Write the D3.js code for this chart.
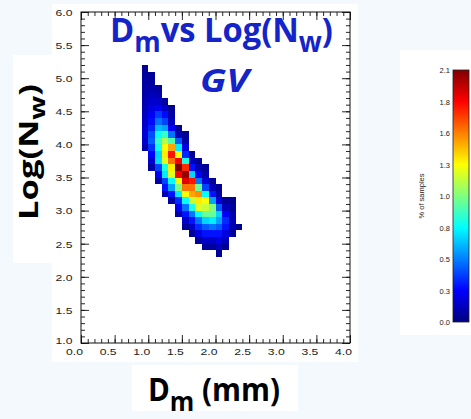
<!DOCTYPE html>
<html>
<head>
<meta charset="utf-8">
<script src="https://cdn.jsdelivr.net/npm/d3@7/dist/d3.min.js"></script>
<style>
  html, body { margin: 0; padding: 0; background: #f4f9fe; }
  svg { display: block; }
</style>
</head>
<body>
<svg id="chart" width="471" height="419"></svg>
<script>
// Dm bins (lower edge, mm), 0.1 mm wide
const dmBins = [0.9, 1.0, 1.1, 1.2, 1.3, 1.4, 1.5, 1.6, 1.7, 1.8, 1.9, 2.0, 2.1, 2.2, 2.3];
// Lower edge of the highest occupied Log(Nw) bin in each Dm column (bins 0.1 wide)
const logNwTop = [5.1, 5.0, 4.8, 4.6, 4.5, 4.2, 4.1, 3.8, 3.7, 3.6, 3.4, 3.3, 3.1, 3.1, 2.7];
// % of samples per cell, each column listed from its top bin downwards
const pctSamples = [
  [0.05, 0.06, 0.07, 0.08, 0.09, 0.10, 0.11, 0.13, 0.15, 0.17, 0.18, 0.16, 0.10],
  [0.05, 0.07, 0.09, 0.12, 0.16, 0.20, 0.24, 0.28, 0.33, 0.42, 0.45, 0.36, 0.26, 0.17, 0.08],
  [0.06, 0.10, 0.15, 0.24, 0.38, 0.50, 0.65, 0.80, 0.90, 0.82, 0.70, 0.72, 0.40, 0.25, 0.09],
  [0.07, 0.15, 0.28, 0.40, 0.60, 0.90, 1.15, 1.30, 1.35, 1.25, 0.85, 0.75, 0.40, 0.30, 0.10],
  [0.05, 0.08, 0.14, 0.25, 0.50, 0.95, 1.50, 1.80, 1.60, 1.35, 1.25, 0.80, 0.60, 0.30, 0.08],
  [0.05, 0.10, 0.45, 0.75, 1.30, 1.85, 2.10, 1.85, 1.30, 1.05, 0.75, 0.35, 0.25, 0.08],
  [0.04, 0.08, 0.20, 0.35, 0.85, 1.75, 2.05, 1.90, 1.60, 1.30, 0.80, 0.50, 0.30, 0.15, 0.06],
  [0.05, 0.12, 0.30, 0.70, 1.80, 1.60, 1.50, 1.20, 0.85, 0.50, 0.30, 0.15, 0.06],
  [0.05, 0.10, 0.25, 0.50, 1.00, 1.55, 1.35, 1.25, 0.80, 0.50, 0.35, 0.20, 0.07],
  [0.05, 0.08, 0.18, 0.40, 0.80, 1.30, 1.20, 1.00, 0.70, 0.45, 0.30, 0.15, 0.06],
  [0.05, 0.12, 0.30, 0.60, 1.05, 1.00, 0.75, 0.50, 0.30, 0.15, 0.07],
  [0.04, 0.08, 0.20, 0.45, 0.70, 0.60, 0.45, 0.30, 0.20, 0.12, 0.05],
  [0.05, 0.12, 0.25, 0.35, 0.30, 0.20, 0.12, 0.05],
  [0.04, 0.06, 0.10, 0.12, 0.10, 0.06],
  [0.04]
];

const xTickValues = [0, 0.5, 1, 1.5, 2, 2.5, 3, 3.5, 4];
const xTickLabels = ["0.0", "0.5", "1.0", "1.5", "2.0", "2.5", "3.0", "3.5", "4.0"];
const yTickValues = [1, 1.5, 2, 2.5, 3, 3.5, 4, 4.5, 5, 5.5, 6];
const yTickLabels = ["1.0", "1.5", "2.0", "2.5", "3.0", "3.5", "4.0", "4.5", "5.0", "5.5", "6.0"];
const cbTickValues = [0, 0.2625, 0.525, 0.7875, 1.05, 1.3125, 1.575, 1.8375, 2.1];
const cbTickLabels = ["0.0", "0.3", "0.5", "0.8", "1.0", "1.3", "1.6", "1.8", "2.1"];
const jetStops = [0, 0.2625, 0.7875, 1.3125, 1.8375, 2.1];
const jetColors = ["#00007f", "#0000ff", "#00ffff", "#ffff00", "#ff0000", "#7f0000"];

const svg = d3.select("#chart");
const FONT = "'Liberation Sans', Arial, Helvetica, sans-serif";
const TITLE_FONT = "'Open Sans', 'Noto Sans', sans-serif";
const BLUE = "#1424c8";

// page backdrop and white panels
svg.append("rect").attr("width", 471).attr("height", 419).attr("fill", "#f4f9fe");
const panels = [[52, 4, 306, 358], [13, 55, 42, 208], [132, 365, 166, 46], [400, 50, 71, 285]];
svg.append("g").selectAll("rect").data(panels).join("rect")
  .attr("x", d => d[0]).attr("y", d => d[1]).attr("width", d => d[2]).attr("height", d => d[3])
  .attr("fill", "#ffffff");

const x = d3.scaleLinear().domain([0, 4]).range([81, 350]);
const y = d3.scaleLinear().domain([1, 6]).range([343, 12]);
const color = d3.scaleLinear().domain(jetStops).range(jetColors).clamp(true);

// histogram cells
const cells = dmBins.flatMap((dm, i) => pctSamples[i].map((v, j) => ({
  dm, nw: +(logNwTop[i] - 0.1 * j).toFixed(1), v
})));
svg.append("g").selectAll("rect").data(cells).join("rect")
  .attr("x", d => Math.round(x(d.dm)))
  .attr("y", d => Math.round(y(d.nw + 0.1)))
  .attr("width", d => Math.round(x(d.dm + 0.1)) - Math.round(x(d.dm)))
  .attr("height", d => Math.round(y(d.nw)) - Math.round(y(d.nw + 0.1)))
  .attr("fill", d => color(d.v))
  .attr("shape-rendering", "crispEdges");

// tick marks on all four sides, pointing inward
const xMinor = x.ticks(40), yMinor = y.ticks(50);
function ticks(axisFn, scale, vals, len, tx, ty) {
  const g = svg.append("g").attr("transform", `translate(${tx},${ty})`)
    .call(axisFn(scale).tickValues(vals).tickSize(-len).tickFormat(""));
  g.select(".domain").remove();
  g.selectAll("line").attr("stroke", "#111").attr("stroke-width", 0.9);
}
ticks(d3.axisBottom, x, xMinor, 4, 0, 343);
ticks(d3.axisBottom, x, xTickValues, 8, 0, 343);
ticks(d3.axisTop, x, xMinor, 4, 0, 12);
ticks(d3.axisTop, x, xTickValues, 8, 0, 12);
ticks(d3.axisLeft, y, yMinor, 4, 81, 0);
ticks(d3.axisLeft, y, yTickValues, 8, 81, 0);
ticks(d3.axisRight, y, yMinor, 4, 350, 0);
ticks(d3.axisRight, y, yTickValues, 8, 350, 0);

svg.append("rect").attr("x", 81).attr("y", 12).attr("width", 269).attr("height", 331)
  .attr("fill", "none").attr("stroke", "#111").attr("stroke-width", 1);

// tick labels
const SX = 1.28;
const gx = svg.append("g").attr("transform", "translate(0,343)")
  .call(d3.axisBottom(x).tickValues(xTickValues).tickSize(0).tickFormat((d, i) => xTickLabels[i]));
gx.select(".domain").remove();
gx.selectAll("text").attr("font-family", FONT).attr("font-size", 9.5).attr("fill", "#222")
  .attr("text-anchor", "end").attr("dy", null).attr("y", 8.5).attr("x", 1.5 / SX)
  .attr("dominant-baseline", "central")
  .attr("transform", `scale(${SX},1)`);

const gy = svg.append("g").attr("transform", "translate(81,0)")
  .call(d3.axisLeft(y).tickValues(yTickValues).tickSize(0).tickFormat((d, i) => yTickLabels[i]));
gy.select(".domain").remove();
gy.selectAll("text").attr("font-family", FONT).attr("font-size", 9.5).attr("fill", "#222")
  .attr("x", -8.5 / SX).attr("dy", "0.35em")
  .attr("transform", `scale(${SX},1)`);
// the lowest y label sits a little above its tick, clear of the x labels
gy.selectAll("text").filter((d, i) => i === 0).attr("dy", "0.1em");

// stretch a text horizontally so it spans a given width from x0
function fitWidth(sel, x0, width) {
  const w = sel.node().getBBox().width;
  const s = width / w;
  sel.attr("transform", `translate(${x0},0) scale(${s},1) translate(${-x0},0)`);
}

// title
const title = svg.append("text").attr("x", 110).attr("y", 42)
  .attr("font-family", TITLE_FONT).attr("font-weight", 700).attr("font-size", 34).attr("fill", BLUE);
title.append("tspan").text("D");
title.append("tspan").attr("font-size", 28).attr("dy", 10).text("m");
title.append("tspan").attr("dy", -10).text("vs Log(N");
title.append("tspan").attr("font-size", 28).attr("dy", 10).text("w");
title.append("tspan").attr("dy", -10).text(")");
fitWidth(title, 110, 223);

const sub = svg.append("text").attr("x", 200).attr("y", 92)
  .attr("font-family", TITLE_FONT).attr("font-weight", 700).attr("font-style", "italic")
  .attr("font-size", 33).attr("fill", BLUE).text("GV");
fitWidth(sub, 200, 53);

// x-axis title
const xt = svg.append("text").attr("x", 148).attr("y", 401)
  .attr("font-family", TITLE_FONT).attr("font-weight", 700).attr("font-size", 32).attr("fill", "#000");
xt.append("tspan").text("D");
xt.append("tspan").attr("font-size", 27).attr("dy", 10).text("m");
xt.append("tspan").attr("dy", -10).text(" (mm)");
fitWidth(xt, 148, 132);

// y-axis title
const yt = svg.append("text").attr("x", 0).attr("y", 0).attr("text-anchor", "middle")
  .attr("font-family", TITLE_FONT).attr("font-weight", 700).attr("font-size", 26).attr("fill", "#000");
yt.append("tspan").text("Log(N");
yt.append("tspan").attr("font-size", 21).attr("dy", 7).text("w");
yt.append("tspan").attr("dy", -7).text(")");
const ytLen = yt.node().getBBox().width;
yt.attr("transform", `translate(38,152) rotate(-90) scale(${136 / ytLen},1)`);

// colour bar
const cbY = d3.scaleLinear().domain([0, 2.1]).range([322, 70]);
const grad = svg.append("defs").append("linearGradient").attr("id", "jet")
  .attr("x1", 0).attr("y1", 1).attr("x2", 0).attr("y2", 0);
grad.selectAll("stop").data(jetStops).join("stop")
  .attr("offset", d => d / 2.1).attr("stop-color", d => color(d));
svg.append("rect").attr("x", 453).attr("y", cbY(2.1)).attr("width", 16)
  .attr("height", cbY(0) - cbY(2.1)).attr("fill", "url(#jet)")
  .attr("stroke", "#222").attr("stroke-width", 0.8);

const gc = svg.append("g").attr("transform", "translate(453,0)")
  .call(d3.axisLeft(cbY).tickValues(cbTickValues).tickSize(0).tickFormat((d, i) => cbTickLabels[i]));
gc.select(".domain").remove();
gc.selectAll("text").attr("font-family", FONT).attr("font-size", 7.5).attr("fill", "#222")
  .attr("x", -3).attr("dy", "0.35em");

svg.append("text").attr("transform", "translate(424,196) rotate(-90)")
  .attr("text-anchor", "middle").attr("font-family", FONT).attr("font-size", 7.5)
  .attr("fill", "#222").text("% of samples");
</script>
</body>
</html>
